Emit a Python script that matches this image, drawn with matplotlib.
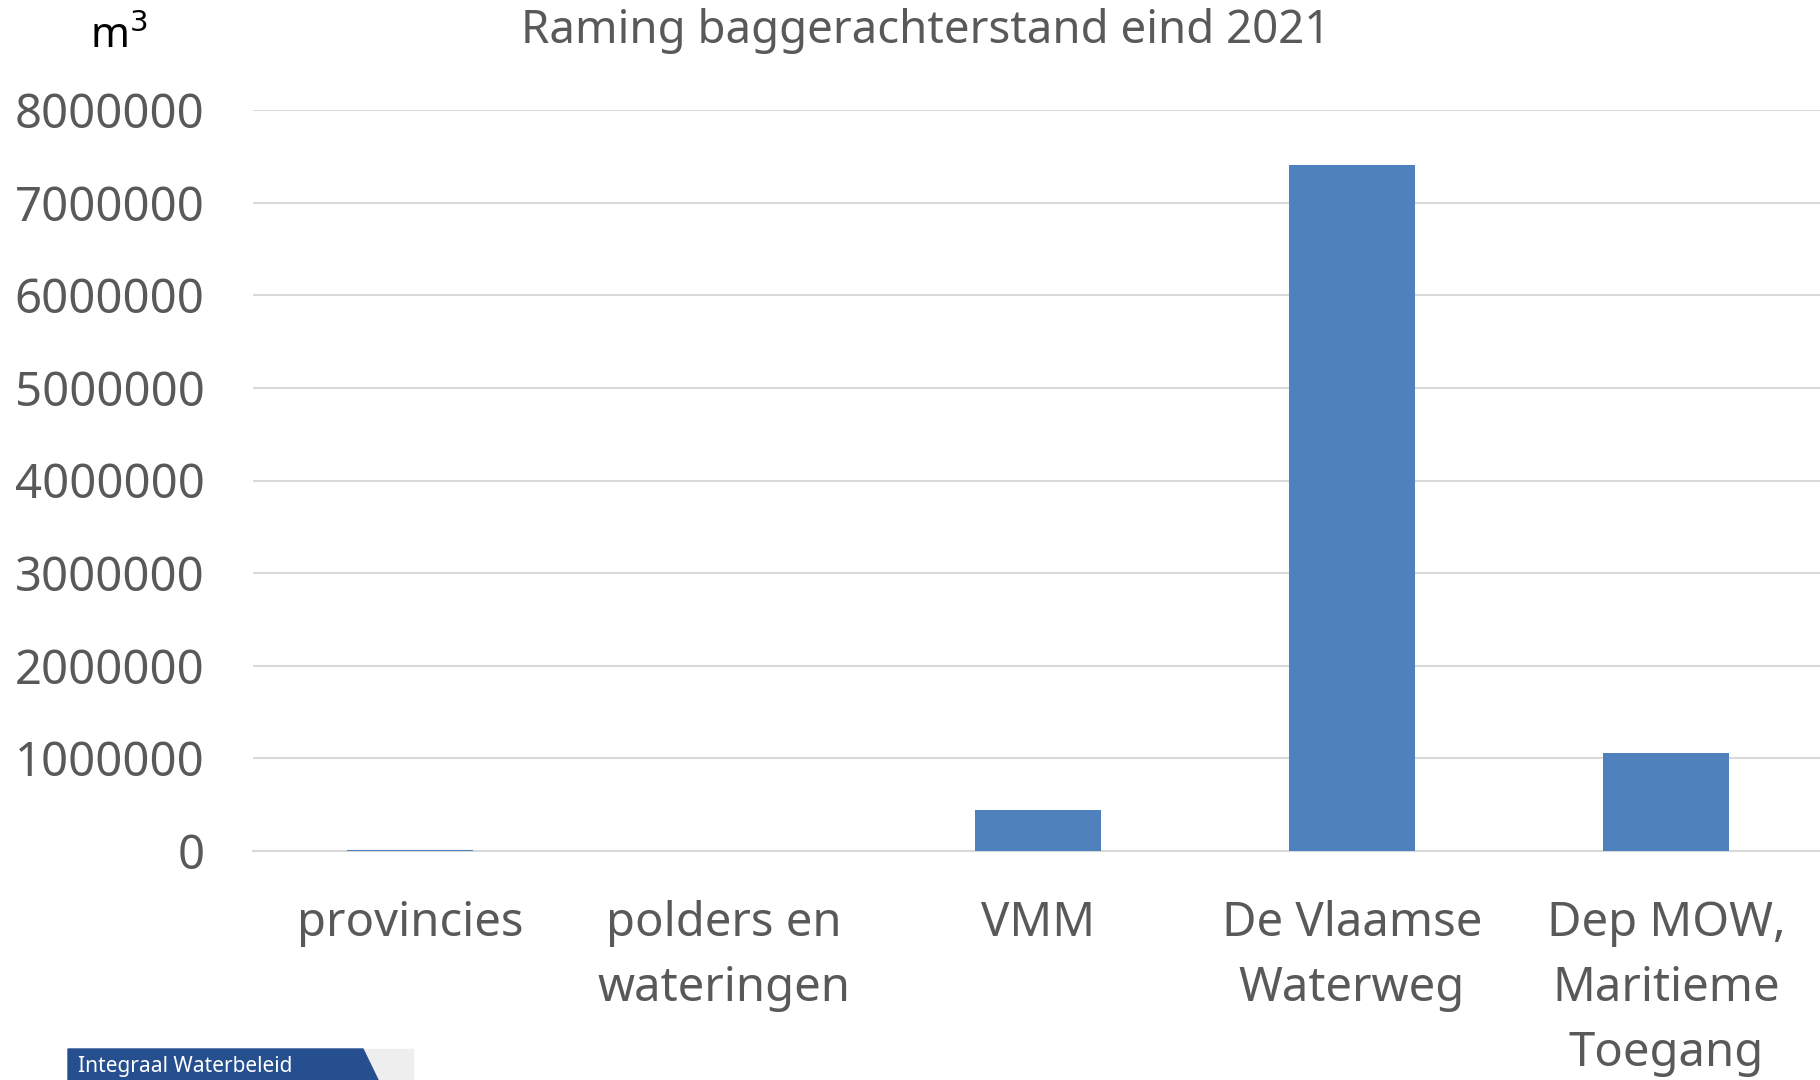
import matplotlib.pyplot as plt
from matplotlib.patches import Polygon, Rectangle

plt.rcParams['font.family'] = ['Noto Sans', 'DejaVu Sans']

# Data
categories = ['provincies', 'polders en\nwateringen', 'VMM', 'De Vlaamse\nWaterweg',
              'Dep MOW,\nMaritieme\nToegang']
values = [15000, 2000, 445000, 7410000, 1055000]
yticks = [0, 1000000, 2000000, 3000000, 4000000, 5000000, 6000000, 7000000, 8000000]

grey = '#595959'
W, H = 1820, 1080

fig = plt.figure(figsize=(18.2, 10.8), dpi=100)
ax = fig.add_axes([253 / W, 1 - 851 / H, 1570 / W, (851 - 110) / H])

ax.bar(range(len(categories)), values, width=0.4, color='#4f81bd', zorder=3)
ax.set_xlim(-0.5, len(categories) - 0.5)
ax.set_ylim(0, 8000000)
ax.set_yticks(yticks)
ax.set_yticklabels([str(v) for v in yticks])
ax.set_xticks(range(len(categories)))
ax.set_xticklabels(categories, linespacing=1.5)

ax.grid(axis='y', color='#d9d9d9', linewidth=1.5, zorder=0)
for s in ['top', 'right', 'left']:
    ax.spines[s].set_visible(False)
ax.spines['bottom'].set_color('#d9d9d9')
ax.spines['bottom'].set_linewidth(1.5)
ax.tick_params(axis='y', length=0, pad=35, labelsize=34, labelcolor=grey)
ax.tick_params(axis='x', length=0, pad=35, labelsize=34, labelcolor=grey)

fig.text(926 / W, 1 - 31 / H, 'Raming baggerachterstand eind 2021', ha='center', va='center',
         fontsize=32.8, color=grey)
fig.text(119 / W, 1 - 37 / H, 'm$^3$', ha='center', va='center', fontsize=30, color='black')

# logo strip at the bottom left
fig.patches.append(Rectangle((363 / W, 0), 50 / W, 31 / H, transform=fig.transFigure,
                             color='#eeeeee'))
fig.patches.append(Polygon([(68 / W, 0), (68 / W, 31 / H), (363 / W, 31 / H), (378 / W, 0)],
                           closed=True, transform=fig.transFigure, color='#264f8f'))
fig.text(78 / W, 1 - 1072 / H, 'Integraal Waterbeleid', ha='left', va='baseline', fontsize=15,
         color='white')

fig.savefig('out.png', dpi=100)
